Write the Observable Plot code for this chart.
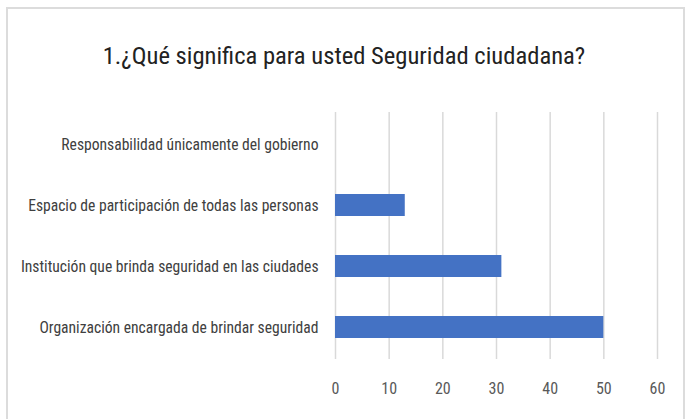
<!DOCTYPE html>
<html>
<head>
<meta charset="utf-8">
<script src="https://cdn.jsdelivr.net/npm/d3@7"></script>
<script src="https://cdn.jsdelivr.net/npm/@observablehq/plot@0.6"></script>
<style>
  html, body { margin: 0; padding: 0; background: #fff; }
  body { width: 688px; height: 419px; overflow: hidden; position: relative;
         font-family: Roboto, sans-serif; font-stretch: condensed; }
  #frame { position: absolute; left: 6px; top: 7px; width: 679px; height: 430px;
           border: 2px solid #dcdcdc; box-sizing: border-box; }
  #title { position: absolute; left: 0; top: 38px; width: 688px; text-align: center;
           font-size: 24.6px; color: #222; line-height: 36px; font-stretch: condensed; }
  #chart { position: absolute; left: 0; top: 95px; }
  #chart svg { font-stretch: condensed; }
</style>
</head>
<body>
<div id="frame"></div>
<div id="title">1.¿Qué significa para usted Seguridad ciudadana?</div>
<div id="chart"></div>
<script>
const categories = [
  "Responsabilidad únicamente del gobierno",
  "Espacio de participación de todas las personas",
  "Institución que brinda seguridad en las ciudades",
  "Organización encargada de brindar seguridad"
];
const values = [0, 13, 31, 50];
const xTicks = [0, 10, 20, 30, 40, 50, 60];

const data = categories.map((c, i) => ({category: c, value: values[i]}));

const chart = Plot.plot({
  width: 688,
  height: 324,
  marginLeft: 335,
  marginRight: 31,
  marginTop: 17,
  marginBottom: 60,
  style: {fontFamily: "Roboto, sans-serif", fontStretch: "condensed", background: "transparent"},
  x: {domain: [0, 60], ticks: xTicks},
  y: {domain: categories, paddingInner: 0.64, paddingOuter: 0.32},
  marks: [
    Plot.gridX(xTicks, {stroke: "#d9d9d9", strokeOpacity: 1, strokeWidth: 1.5}),
    Plot.barX(data, {x: "value", y: "category", fill: "#4472C4"}),
    Plot.axisX({ticks: xTicks, tickSize: 0, tickPadding: 23, fontSize: 16, fill: "#595959", label: null}),
    Plot.axisY({tickSize: 0, tickPadding: 17, fontSize: 15.6, fill: "#404040", label: null})
  ]
});
document.getElementById("chart").appendChild(chart);
</script>
</body>
</html>
